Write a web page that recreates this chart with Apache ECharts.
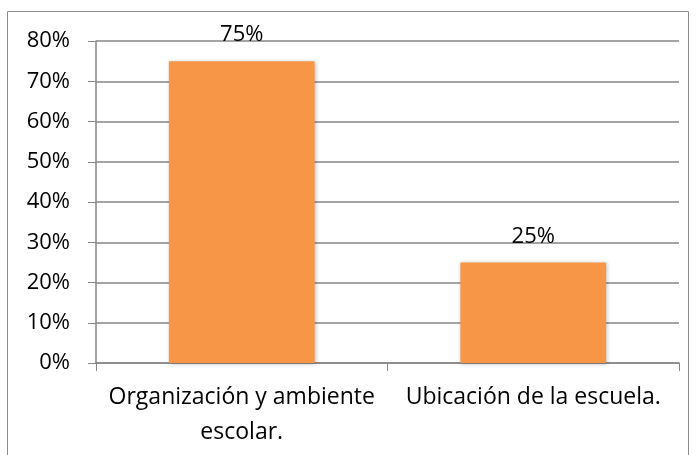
<!DOCTYPE html>
<html><head><meta charset="utf-8">
<script src="https://cdn.jsdelivr.net/npm/echarts@6/dist/echarts.min.js"></script>
<style>html,body{margin:0;padding:0;background:#fff}#c{width:696px;height:455px}</style>
</head><body><div id="c"></div>
<script>
const categories = ['Organización y ambiente\nescolar.', 'Ubicación de la escuela.'];
const values = [75, 25];
const yTicks = [0, 10, 20, 30, 40, 50, 60, 70, 80];

const chart = echarts.init(document.getElementById('c'));
const font = 'Open Sans';
chart.setOption({
  animation: false,
  graphic: [{
    type: 'rect', shape: { x: 7.5, y: 11.5, width: 681, height: 460 },
    style: { fill: 'none', stroke: '#8c8c8c', lineWidth: 1 }
  }],
  grid: { left: 96, right: 17, top: 41, bottom: 92, containLabel: false },
  xAxis: {
    type: 'category', data: categories,
    axisLine: { lineStyle: { color: '#868686', width: 1.5 } },
    axisTick: { show: true, length: 8, lineStyle: { color: '#868686' } },
    axisLabel: { color: '#000', fontFamily: font, fontSize: 23, margin: 17, lineHeight: 35, interval: 0 }
  },
  yAxis: {
    type: 'value', min: 0, max: yTicks[yTicks.length - 1], interval: 10,
    axisLine: { show: true, lineStyle: { color: '#868686', width: 1.5 } },
    axisTick: { show: true, length: 8, lineStyle: { color: '#868686' } },
    splitLine: { lineStyle: { color: '#868686', width: 1.5 } },
    axisLabel: { color: '#000', fontFamily: font, fontSize: 22, margin: 26, formatter: v => v + '%' }
  },
  series: [{
    type: 'bar', data: values, barWidth: '50%',
    itemStyle: { color: '#F79646', shadowColor: 'rgba(0,0,0,0.25)', shadowBlur: 4, shadowOffsetX: 1, shadowOffsetY: 1 },
    label: { show: true, position: 'top', distance: 15, color: '#000', fontFamily: font, fontSize: 22, formatter: p => p.value + '%' }
  }]
});
</script></body></html>
